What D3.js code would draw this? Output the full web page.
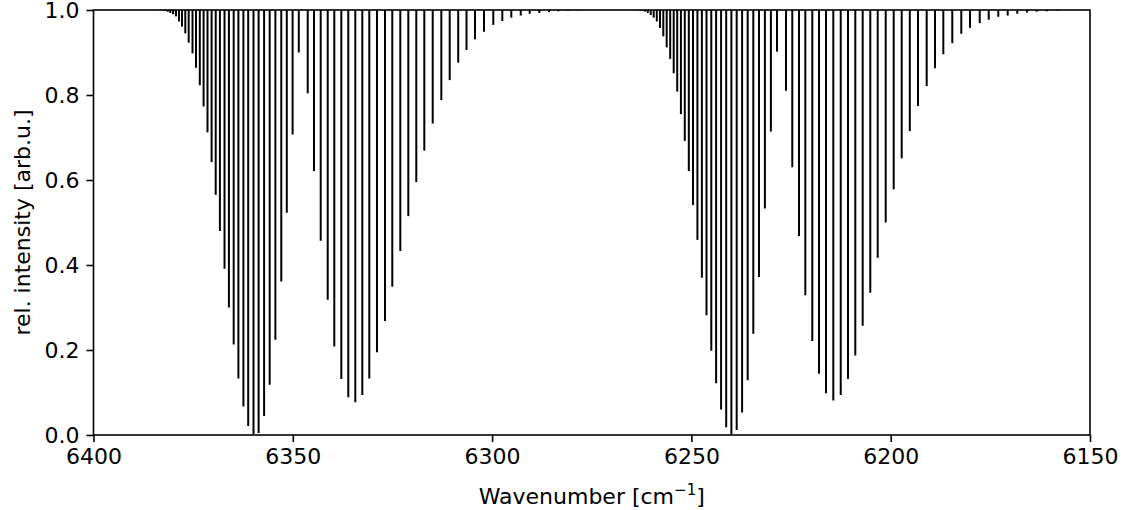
<!DOCTYPE html>
<html>
<head>
<meta charset="utf-8">
<script src="https://cdn.jsdelivr.net/npm/d3@7"></script>
<style>
  html, body { margin: 0; padding: 0; background: #fff; }
  svg { display: block; }
  text { font-family: "DejaVu Sans", sans-serif; fill: #000; }
</style>
</head>
<body>
<svg id="chart" width="1126" height="510"></svg>
<script>
// ---- data ----
// Band 1 (higher wavenumber band): line positions [cm^-1]
const band1Wavenumbers = [
  6383.19, 6382.61, 6382.01, 6381.38, 6380.73, 6380.03, 6379.30, 6378.55, 6377.80, 6376.97,
  6376.12, 6375.16, 6374.28, 6373.33, 6372.38, 6371.40, 6370.37, 6369.34, 6368.29, 6367.13,
  6366.03, 6364.83, 6363.65, 6362.39, 6361.19, 6359.86, 6358.58, 6357.20, 6355.80, 6354.37,
  6352.89, 6351.51, 6350.05, 6348.50,
  6346.26, 6344.68, 6343.00, 6341.24, 6339.59, 6337.83, 6336.08, 6334.32, 6332.56, 6330.81,
  6328.88, 6326.87, 6325.04, 6323.03, 6321.02, 6319.02, 6317.01, 6314.90, 6312.74, 6310.64,
  6308.50, 6306.42, 6304.29, 6302.03, 6299.70, 6297.44, 6295.18, 6292.82, 6290.57, 6288.16,
  6285.73, 6283.39, 6280.96, 6278.52
];
// Band 1 relative intensities (line bottoms)
const band1Intensities = [
  0.9995, 0.999, 0.998, 0.996, 0.993, 0.990, 0.985, 0.973, 0.961, 0.945,
  0.923, 0.898, 0.864, 0.823, 0.773, 0.712, 0.642, 0.565, 0.480, 0.391,
  0.300, 0.213, 0.133, 0.067, 0.021, 0.002, 0.005, 0.045, 0.118, 0.224,
  0.361, 0.523, 0.707, 0.900,
  0.804, 0.621, 0.457, 0.318, 0.208, 0.132, 0.089, 0.077, 0.094, 0.133,
  0.195, 0.268, 0.349, 0.433, 0.515, 0.595, 0.669, 0.733, 0.788, 0.835,
  0.876, 0.906, 0.931, 0.949, 0.965, 0.974, 0.982, 0.987, 0.991, 0.993,
  0.995, 0.997, 0.998, 0.999
];
// Band 2 (lower wavenumber band): line positions [cm^-1]
const band2Wavenumbers = [
  6263.52, 6262.90, 6262.27, 6261.62, 6260.94, 6260.21, 6259.46, 6258.68, 6257.88, 6257.05,
  6256.20, 6255.32, 6254.44, 6253.56, 6252.63, 6251.66, 6250.65, 6249.60, 6248.49, 6247.37,
  6246.21, 6245.01, 6243.80, 6242.55, 6241.27, 6239.97, 6238.64, 6237.28, 6235.88, 6234.47,
  6233.04, 6231.56, 6230.06, 6228.52,
  6226.27, 6224.69, 6223.01, 6221.42, 6219.67, 6217.99, 6216.23, 6214.40, 6212.54, 6210.71,
  6208.88, 6207.03, 6205.12, 6203.26, 6201.25, 6199.25, 6197.24, 6195.21, 6193.15, 6190.97,
  6188.89, 6186.80, 6184.55, 6182.29, 6180.11, 6177.67, 6175.41, 6173.01, 6170.65, 6168.24,
  6165.81, 6163.37, 6160.84, 6158.10
];
// Band 2 relative intensities (line bottoms)
const band2Intensities = [
  0.9995, 0.999, 0.998, 0.996, 0.993, 0.988, 0.982, 0.973, 0.958, 0.938,
  0.912, 0.885, 0.851, 0.808, 0.755, 0.692, 0.621, 0.541, 0.459, 0.370,
  0.282, 0.198, 0.122, 0.060, 0.018, 0.002, 0.012, 0.053, 0.129, 0.238,
  0.372, 0.533, 0.714, 0.902,
  0.810, 0.630, 0.468, 0.329, 0.221, 0.144, 0.098, 0.081, 0.094, 0.132,
  0.187, 0.257, 0.335, 0.417, 0.500, 0.578, 0.651, 0.715, 0.774, 0.821,
  0.863, 0.896, 0.922, 0.944, 0.958, 0.969, 0.977, 0.984, 0.987, 0.991,
  0.994, 0.996, 0.997, 0.998
];
const xTicks = [6400, 6350, 6300, 6250, 6200, 6150];
const yTicks = [0.0, 0.2, 0.4, 0.6, 0.8, 1.0];
const xDomain = [6400, 6150];
const yDomain = [0, 1];
const baseline = 1.0;

// ---- layout ----
const plotLeft = 93.5, plotRight = 1090, plotTop = 10, plotBottom = 435;
const svg = d3.select("#chart");
const x = d3.scaleLinear().domain(xDomain).range([plotLeft, plotRight]);
const y = d3.scaleLinear().domain(yDomain).range([plotBottom, plotTop]);

const lineData = [];
band1Wavenumbers.forEach((w, i) => lineData.push({ w, v: band1Intensities[i] }));
band2Wavenumbers.forEach((w, i) => lineData.push({ w, v: band2Intensities[i] }));

svg.append("g")
  .selectAll("line")
  .data(lineData)
  .join("line")
  .attr("x1", d => x(d.w)).attr("x2", d => x(d.w))
  .attr("y1", y(baseline)).attr("y2", d => y(d.v))
  .attr("stroke", "#000").attr("stroke-width", 2);

// axes
const fontSize = 22;
const xAxisG = svg.append("g")
  .attr("transform", `translate(0,${plotBottom})`)
  .call(d3.axisBottom(x).tickValues(xTicks).tickSize(7).tickPadding(6).tickFormat(d3.format("d")));
const yAxisG = svg.append("g")
  .attr("transform", `translate(${plotLeft},0)`)
  .call(d3.axisLeft(y).tickValues(yTicks).tickSize(7).tickPadding(7).tickFormat(d3.format(".1f")));
[xAxisG, yAxisG].forEach(g => {
  g.select(".domain").remove();
  g.selectAll(".tick line").attr("stroke", "#000").attr("stroke-width", 1.6);
  g.selectAll(".tick text").attr("font-family", "DejaVu Sans").attr("font-size", fontSize).attr("fill", "#000");
});

// frame (spines)
svg.append("rect")
  .attr("x", plotLeft).attr("y", plotTop)
  .attr("width", plotRight - plotLeft).attr("height", plotBottom - plotTop)
  .attr("fill", "none").attr("stroke", "#000").attr("stroke-width", 1.6);

// axis labels
const xl = svg.append("text")
  .attr("x", (plotLeft + plotRight) / 2).attr("y", 504)
  .attr("text-anchor", "middle").attr("font-size", fontSize);
xl.append("tspan").text("Wavenumber [cm");
xl.append("tspan").attr("dy", -9).attr("font-size", 15).text("\u22121");
xl.append("tspan").attr("dy", 9).text("]");

svg.append("text")
  .attr("transform", `translate(30,${(plotTop + plotBottom) / 2}) rotate(-90)`)
  .attr("text-anchor", "middle").attr("font-size", fontSize)
  .text("rel. intensity [arb.u.]");
</script>
</body>
</html>
